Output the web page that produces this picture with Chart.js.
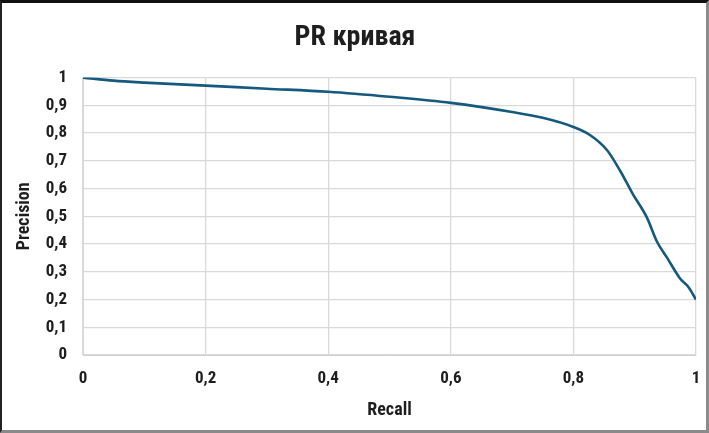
<!DOCTYPE html>
<html>
<head>
<meta charset="utf-8">
<script src="https://cdn.jsdelivr.net/npm/chart.js@4.4.1/dist/chart.umd.min.js"></script>
<style>
  body { margin: 0; background: #fff; }
  #wrap { position: relative; width: 709px; height: 433px; }
  #frame {
    position: absolute; left: 0; top: 0; width: 709px; height: 433px;
    box-sizing: border-box; pointer-events: none;
    border-top: 3px solid #111; border-left: 2px solid #222;
    border-right: 3px solid #8a8a8a; border-bottom: 3px solid #8a8a8a;
  }
  canvas { position: absolute; left: 0; top: 0; }
</style>
</head>
<body>
<div id="wrap">
  <canvas id="pr-chart" width="709" height="433"></canvas>
  <div id="frame"></div>
</div>
<script>
// PR curve points
const recall    = [0, 0.05, 0.1, 0.2, 0.3, 0.4, 0.5, 0.6, 0.7, 0.75, 0.8, 0.827, 0.855, 0.876, 0.897, 0.92, 0.936, 0.953, 0.974, 0.987, 1.0];
const precision = [1.0, 0.989, 0.982, 0.971, 0.96, 0.949, 0.931, 0.909, 0.876, 0.855, 0.822, 0.793, 0.738, 0.665, 0.58, 0.495, 0.41, 0.35, 0.276, 0.247, 0.2];

const xTickLabels = ['0', '0,2', '0,4', '0,6', '0,8', '1'];
const yTickLabels = ['0', '0,1', '0,2', '0,3', '0,4', '0,5', '0,6', '0,7', '0,8', '0,9', '1'];

const points = recall.map((r, i) => ({ x: r, y: precision[i] }));

const fontFamily = "'Liberation Sans Narrow', 'Roboto Condensed', sans-serif";
const textColor = '#1e1e1e';

const ctx = document.getElementById('pr-chart').getContext('2d');
const prChart = new Chart(ctx, {
  type: 'scatter',
  data: {
    datasets: [{
      data: points,
      showLine: true,
      borderColor: '#145a7e',
      borderWidth: 2.6,
      pointRadius: 0,
      cubicInterpolationMode: 'monotone',
      fill: false
    }]
  },
  options: {
    responsive: false,
    animation: false,
    layout: { padding: { left: 14, right: 13, top: 0, bottom: 12 } },
    plugins: {
      legend: { display: false },
      tooltip: { enabled: false },
      title: {
        display: true,
        text: 'PR кривая',
        color: textColor,
        font: { family: fontFamily, size: 28, weight: 'bold' },
        padding: { top: 21, bottom: 23 }
      }
    },
    scales: {
      x: {
        type: 'linear',
        min: 0, max: 1,
        afterFit: s => { s.height = 66; s.paddingLeft = 0; s.paddingRight = 0; },
        ticks: {
          stepSize: 0.2,
          padding: 14,
          color: textColor,
          font: { family: fontFamily, size: 17, weight: 'bold' },
          callback: (v, i) => xTickLabels[i]
        },
        grid: { color: '#d9d9d9', lineWidth: 1.3, drawTicks: false },
        border: { color: '#d0d0d0' },
        title: {
          display: true, text: 'Recall', color: textColor,
          font: { family: fontFamily, size: 18, weight: 'bold' },
          padding: { top: 6, bottom: 0 }
        }
      },
      y: {
        type: 'linear',
        min: 0, max: 1,
        afterFit: s => { s.width = 69; },
        ticks: {
          stepSize: 0.1,
          padding: 16,
          color: textColor,
          font: { family: fontFamily, size: 17, weight: 'bold' },
          callback: (v, i) => yTickLabels[i]
        },
        grid: { color: '#d9d9d9', lineWidth: 1.3, drawTicks: false },
        border: { color: '#d9d9d9' },
        title: {
          display: true, text: 'Precision', color: textColor,
          font: { family: fontFamily, size: 18, weight: 'bold' },
          padding: { top: 0, bottom: 0 }
        }
      }
    }
  }
});
</script>
</body>
</html>
